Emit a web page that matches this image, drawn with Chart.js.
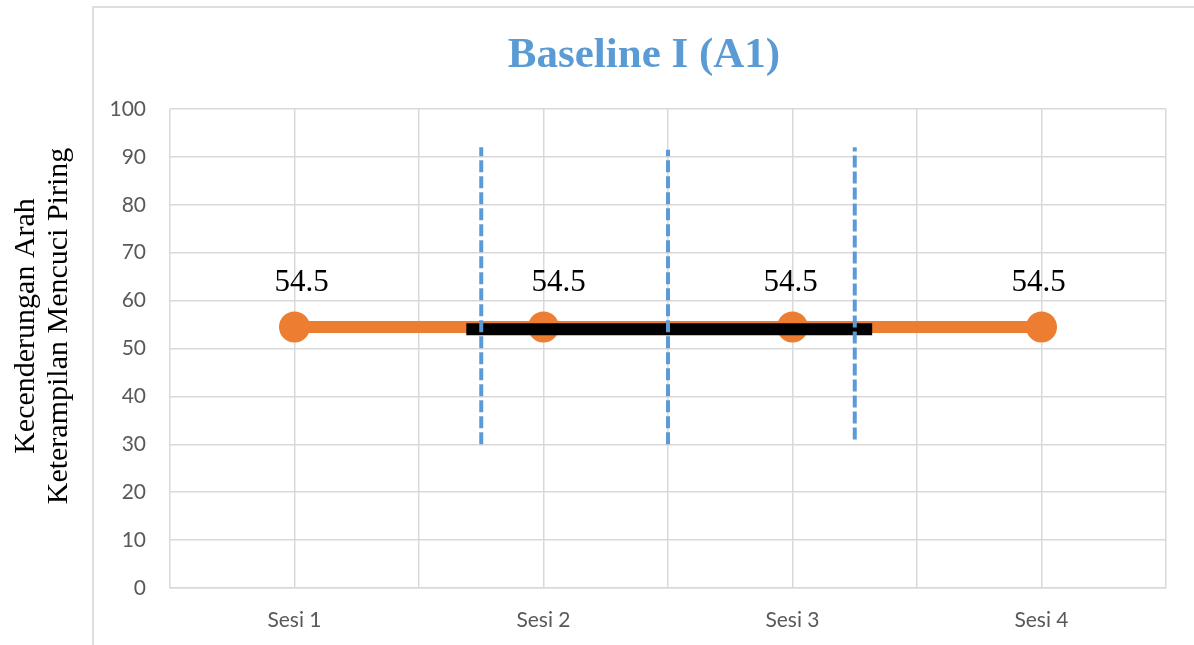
<!DOCTYPE html>
<html>
<head>
<meta charset="utf-8">
<script src="https://cdn.jsdelivr.net/npm/chart.js@4.4.1/dist/chart.umd.min.js"></script>
<style>
  html, body { margin: 0; padding: 0; background: #ffffff; }
  #wrap { position: relative; width: 1194px; height: 645px; overflow: hidden; }
  #frame {
    position: absolute; left: 92px; top: 6px; width: 1200px; height: 700px;
    border-left: 2px solid #dedede; border-top: 2px solid #dedede;
  }
  #chart { position: absolute; left: 0; top: 0; }
</style>
</head>
<body>
<div id="wrap">
  <div id="frame"></div>
  <canvas id="chart" width="1194" height="645"></canvas>
</div>
<script>
// Sessions and observed scores
const categories = ['Sesi 1', 'Sesi 2', 'Sesi 3', 'Sesi 4'];
const scores = [54.5, 54.5, 54.5, 54.5];

// Value-axis ticks
const yTicks = [0, 10, 20, 30, 40, 50, 60, 70, 80, 90, 100];

// Trend line (split-middle), in session units
const trendX = [0.69, 2.32];
const trendY = [54, 54];

// Dashed split markers, in session units
const splitX = [0.75, 1.5, 2.25];
const splitFrom = [30, 30, 31];
const splitTo = [92, 91.5, 92];

const chartTitle = 'Baseline I (A1)';
const yTitle = ['Kecenderungan Arah', 'Keterampilan Mencuci Piring'];

const ORANGE = '#ED7D31';
const BLUE = '#5B9BD5';
const GRID = '#d9d9d9';
const SERIF = '"Liberation Serif", "Times New Roman", serif';

// small horizontal nudges of the value labels
const labelNudge = [7, 15, -2, -3];

const datasets = [];

// Observed scores
datasets.push({
  label: 'Skor',
  data: scores.map((v, i) => ({ x: i, y: v })),
  borderColor: ORANGE,
  backgroundColor: ORANGE,
  borderWidth: 12,
  pointRadius: 15.5,
  pointHoverRadius: 15.5,
  pointBorderWidth: 0,
  pointBackgroundColor: ORANGE,
  order: 3
});

// Trend line
datasets.push({
  label: 'Trend',
  data: trendX.map((x, i) => ({ x: x, y: trendY[i] })),
  borderColor: '#000000',
  borderWidth: 12,
  borderCapStyle: 'butt',
  pointRadius: 0,
  order: 2
});

// Split markers
splitX.forEach((x, i) => {
  datasets.push({
    label: 'Split ' + (i + 1),
    data: [{ x: x, y: splitFrom[i] }, { x: x, y: splitTo[i] }],
    borderColor: BLUE,
    borderWidth: 4,
    borderDash: [12, 4],
    borderCapStyle: 'butt',
    pointRadius: 0,
    order: 1
  });
});

// Title, value labels and the two-line value-axis title
const textPlugin = {
  id: 'chartTexts',
  afterDatasetsDraw(chart) {
    const ctx = chart.ctx;
    const meta = chart.getDatasetMeta(0);
    ctx.save();
    ctx.font = '31px ' + SERIF;
    ctx.fillStyle = '#000000';
    ctx.textAlign = 'center';
    ctx.textBaseline = 'middle';
    meta.data.forEach((pt, i) => {
      ctx.fillText(String(scores[i]), pt.x + labelNudge[i], pt.y - 44);
    });
    ctx.restore();
  },
  afterDraw(chart) {
    const ctx = chart.ctx;
    ctx.save();
    // chart title
    ctx.font = 'bold 43px ' + SERIF;
    ctx.fillStyle = BLUE;
    ctx.textAlign = 'center';
    ctx.textBaseline = 'alphabetic';
    ctx.fillText(chartTitle, 644, 67);
    // value-axis title
    ctx.font = '30px ' + SERIF;
    ctx.fillStyle = '#000000';
    ctx.textBaseline = 'middle';
    const cy = 326;
    const xs = [26, 59];
    yTitle.forEach((t, i) => {
      ctx.save();
      ctx.translate(xs[i], cy);
      ctx.rotate(-Math.PI / 2);
      ctx.fillText(t, 0, 0);
      ctx.restore();
    });
    ctx.restore();
  }
};

new Chart(document.getElementById('chart'), {
  type: 'line',
  data: { datasets: datasets },
  options: {
    responsive: false,
    animation: false,
    events: [],
    layout: { padding: { left: 0, right: 28, top: 109, bottom: 0 } },
    plugins: {
      legend: { display: false },
      tooltip: { enabled: false },
      title: { display: false }
    },
    scales: {
      x: {
        type: 'linear',
        min: -0.5,
        max: 3.5,
        afterFit(scale) { scale.height = 57; },
        afterBuildTicks(scale) {
          const t = [];
          for (let v = -0.5; v <= 3.5001; v += 0.5) t.push({ value: v });
          scale.ticks = t;
        },
        ticks: {
          autoSkip: false,
          maxRotation: 0,
          padding: 20,
          color: '#595959',
          font: { family: 'Lato, "Open Sans", sans-serif', size: 21 },
          callback(value) {
            return Number.isInteger(value) ? categories[value] : '';
          }
        },
        grid: { color: GRID, lineWidth: 1.5, drawTicks: false },
        border: { color: GRID, width: 1.5 }
      },
      y: {
        min: 0,
        max: 100,
        afterFit(scale) { scale.width = 170; },
        afterBuildTicks(scale) {
          scale.ticks = yTicks.map(v => ({ value: v }));
        },
        ticks: {
          padding: 24,
          color: '#595959',
          font: { family: 'Lato, "Open Sans", sans-serif', size: 21 }
        },
        grid: { color: GRID, lineWidth: 1.5, drawTicks: false },
        border: { display: false }
      }
    }
  },
  plugins: [textPlugin]
});
</script>
</body>
</html>
